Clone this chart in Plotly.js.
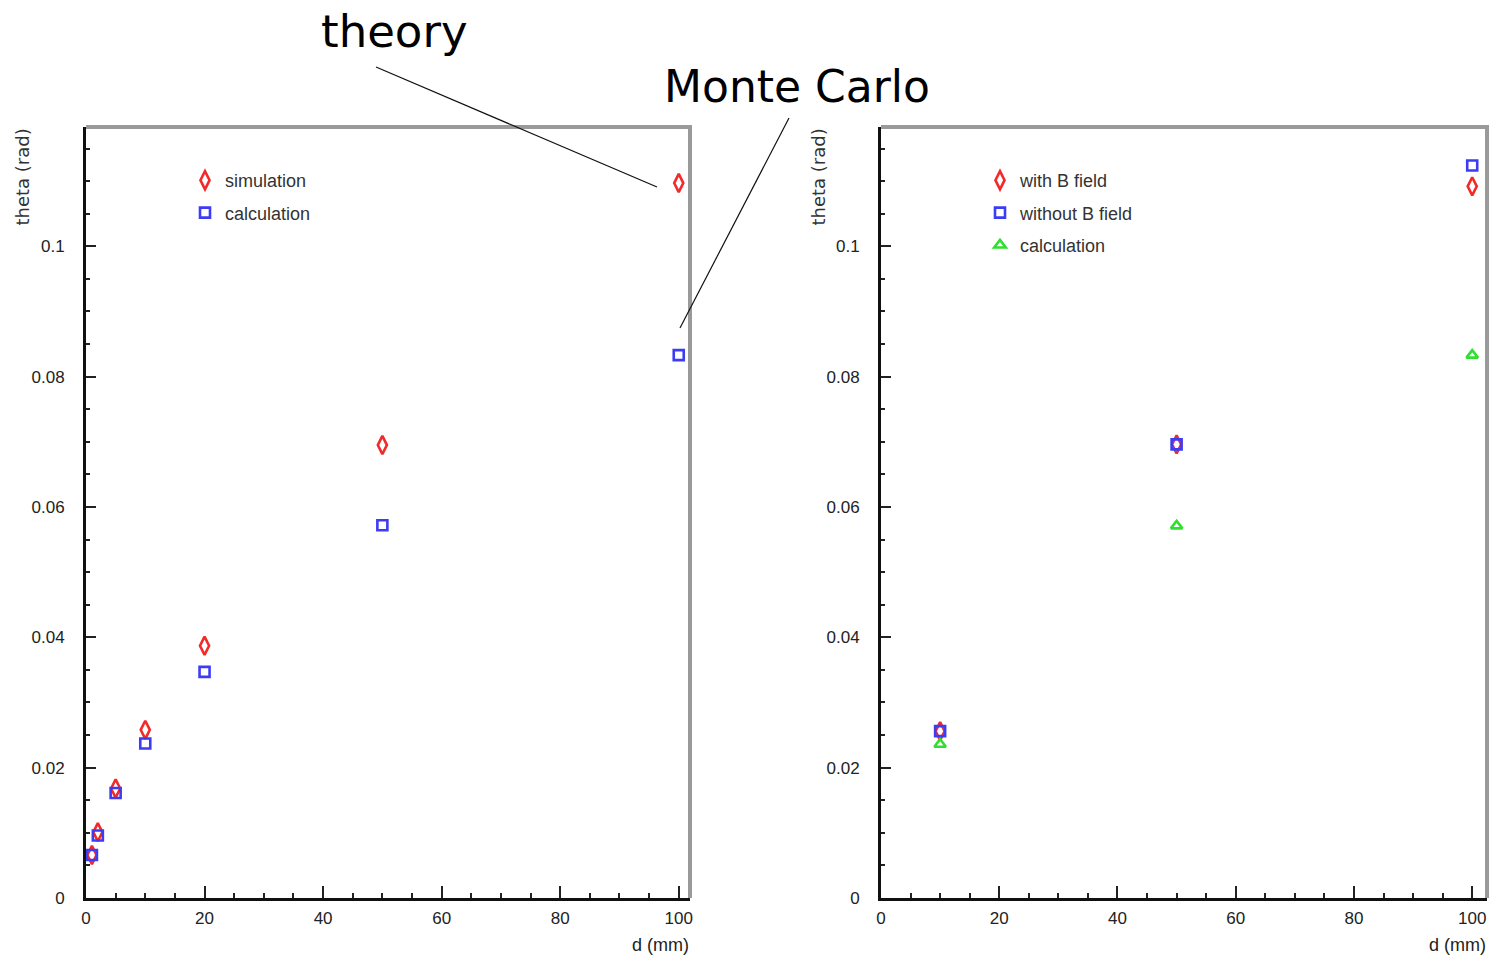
<!DOCTYPE html>
<html>
<head>
<meta charset="utf-8">
<script src="https://cdn.plot.ly/plotly-3.0.1.min.js"></script>
<style>html,body{margin:0;padding:0;background:#fff;}#chart{width:1493px;height:959px;}</style>
</head>
<body>
<div id="chart"></div>
<script>
// ---- data ----
const dLeft = [1, 2, 5, 10, 20, 50, 100];
const simulation = [0.0066, 0.0101, 0.0168, 0.0258, 0.0387, 0.0695, 0.1097];
const calculationLeft = [0.0066, 0.0096, 0.0161, 0.0237, 0.0347, 0.0572, 0.0833];

const dRight = [10, 50, 100];
const withBField = [0.0256, 0.0696, 0.1092];
const withoutBField = [0.0256, 0.0696, 0.1124];
const calculationRight = [0.0236, 0.0571, 0.0833];

const leftNames = ['simulation', 'calculation'];
const rightNames = ['with B field', 'without B field', 'calculation'];
const yTickVals = [0, 0.02, 0.04, 0.06, 0.08, 0.1];
const xTickVals = [0, 20, 40, 60, 80, 100];

const W = 1493, H = 959;
const px = v => v / W;
const py = v => 1 - v / H;

const RED = '#f22a2a', BLUE = '#3c3cf5', GREEN = '#2fe02f';
const FONT = 'Liberation Sans, Arial, sans-serif';

const traces = [
  {x: dLeft, y: simulation, name: leftNames[0], type: 'scatter', mode: 'markers', xaxis: 'x', yaxis: 'y', legend: 'legend', legendgroup: 'a',
   marker: {symbol: 'diamond-tall-open', size: 13, color: RED, line: {width: 2.6, color: RED}}},
  {x: dLeft, y: calculationLeft, name: leftNames[1], type: 'scatter', mode: 'markers', xaxis: 'x', yaxis: 'y', legend: 'legend', legendgroup: 'b',
   marker: {symbol: 'square-open', size: 10, color: BLUE, line: {width: 2.6, color: BLUE}}},
  {x: dRight, y: withBField, name: rightNames[0], type: 'scatter', mode: 'markers', xaxis: 'x2', yaxis: 'y2', legend: 'legend2', legendgroup: 'c',
   marker: {symbol: 'diamond-tall-open', size: 13, color: RED, line: {width: 2.6, color: RED}}},
  {x: dRight, y: withoutBField, name: rightNames[1], type: 'scatter', mode: 'markers', xaxis: 'x2', yaxis: 'y2', legend: 'legend2', legendgroup: 'd',
   marker: {symbol: 'square-open', size: 10, color: BLUE, line: {width: 2.6, color: BLUE}}},
  {x: dRight, y: calculationRight, name: rightNames[2], type: 'scatter', mode: 'markers', xaxis: 'x2', yaxis: 'y2', legend: 'legend2', legendgroup: 'e',
   marker: {symbol: 'triangle-up-open', size: 10, color: GREEN, line: {width: 2.6, color: GREEN}}}
];

const tickFont = {family: FONT, size: 17, color: '#222'};

function xAxis(domain, range) {
  return {
    domain: domain, range: range, showgrid: false, zeroline: false,
    showline: true, linewidth: 3, linecolor: '#111',
    ticks: 'inside', ticklen: 12, tickwidth: 2, tickcolor: '#222',
    tickvals: xTickVals, tickfont: tickFont, ticklabelstandoff: 3,
    minor: {dtick: 5, ticks: 'inside', ticklen: 5, tickwidth: 2, tickcolor: '#222'}
  };
}
function yAxis(domain, anchor) {
  return {
    domain: domain, range: [0, 0.1183], anchor: anchor, showgrid: false, zeroline: false,
    showline: true, linewidth: 3, linecolor: '#111',
    ticks: 'inside', ticklen: 10, tickwidth: 2, tickcolor: '#222',
    tickvals: yTickVals, tickfont: tickFont, ticklabelstandoff: 15,
    minor: {dtick: 0.005, ticks: 'inside', ticklen: 4, tickwidth: 2, tickcolor: '#222'}
  };
}

const yDom = [py(898), py(127)];

const legendCommon = {
  bgcolor: 'rgba(0,0,0,0)', borderwidth: 0, xanchor: 'left', yanchor: 'top',
  tracegroupgap: 6, font: {family: FONT, size: 18, color: '#333'}
};

function frameShapes(x0, x1, y0, y1) {
  return [
    {type: 'line', xref: 'paper', yref: 'paper', x0: px(x0), x1: px(x1 + 2), y0: py(y0), y1: py(y0), line: {color: '#9a9a9a', width: 4}},
    {type: 'line', xref: 'paper', yref: 'paper', x0: px(x1), x1: px(x1), y0: py(y0), y1: py(y1), line: {color: '#9a9a9a', width: 4}}
  ];
}

const layout = {
  width: W, height: H,
  margin: {l: 0, r: 0, t: 0, b: 0},
  paper_bgcolor: '#fff', plot_bgcolor: '#fff',
  showlegend: true,
  xaxis: xAxis([px(86), px(690)], [0, 101.9]),
  yaxis: yAxis(yDom, 'x'),
  xaxis2: Object.assign(xAxis([px(881), px(1487)], [0, 102.5]), {anchor: 'y2'}),
  yaxis2: yAxis(yDom, 'x2'),
  legend: Object.assign({x: px(185), y: py(162)}, legendCommon),
  legend2: Object.assign({x: px(980), y: py(162)}, legendCommon),
  shapes: [].concat(
    frameShapes(86, 690, 127, 898),
    frameShapes(881, 1487, 127, 898),
    [
      {type: 'line', xref: 'paper', yref: 'paper', x0: px(376), y0: py(67), x1: px(657), y1: py(187), line: {color: '#111', width: 1.2}},
      {type: 'line', xref: 'paper', yref: 'paper', x0: px(789), y0: py(118), x1: px(680), y1: py(328), line: {color: '#111', width: 1.2}}
    ]
  ),
  annotations: [
    {text: 'theory', xref: 'paper', yref: 'paper', x: px(394), y: py(32), xanchor: 'center', yanchor: 'middle', showarrow: false,
     font: {family: 'DejaVu Sans, sans-serif', size: 45, color: '#000'}},
    {text: 'Monte Carlo', xref: 'paper', yref: 'paper', x: px(797), y: py(86), xanchor: 'center', yanchor: 'middle', showarrow: false,
     font: {family: 'DejaVu Sans, sans-serif', size: 44, color: '#000'}},
    {text: 'theta (rad)', xref: 'paper', yref: 'paper', x: px(22), y: py(127), xanchor: 'center', yanchor: 'top', textangle: -90, showarrow: false,
     font: {family: 'DejaVu Sans, sans-serif', size: 18, color: '#333'}},
    {text: 'theta (rad)', xref: 'paper', yref: 'paper', x: px(818), y: py(127), xanchor: 'center', yanchor: 'top', textangle: -90, showarrow: false,
     font: {family: 'DejaVu Sans, sans-serif', size: 18, color: '#333'}},
    {text: 'd (mm)', xref: 'paper', yref: 'paper', x: px(691), y: py(945), xanchor: 'right', yanchor: 'middle', showarrow: false,
     font: {family: FONT, size: 18, color: '#222'}},
    {text: 'd (mm)', xref: 'paper', yref: 'paper', x: px(1488), y: py(945), xanchor: 'right', yanchor: 'middle', showarrow: false,
     font: {family: FONT, size: 18, color: '#222'}}
  ]
};

Plotly.newPlot('chart', traces, layout, {displayModeBar: false, staticPlot: true});
</script>
</body>
</html>
